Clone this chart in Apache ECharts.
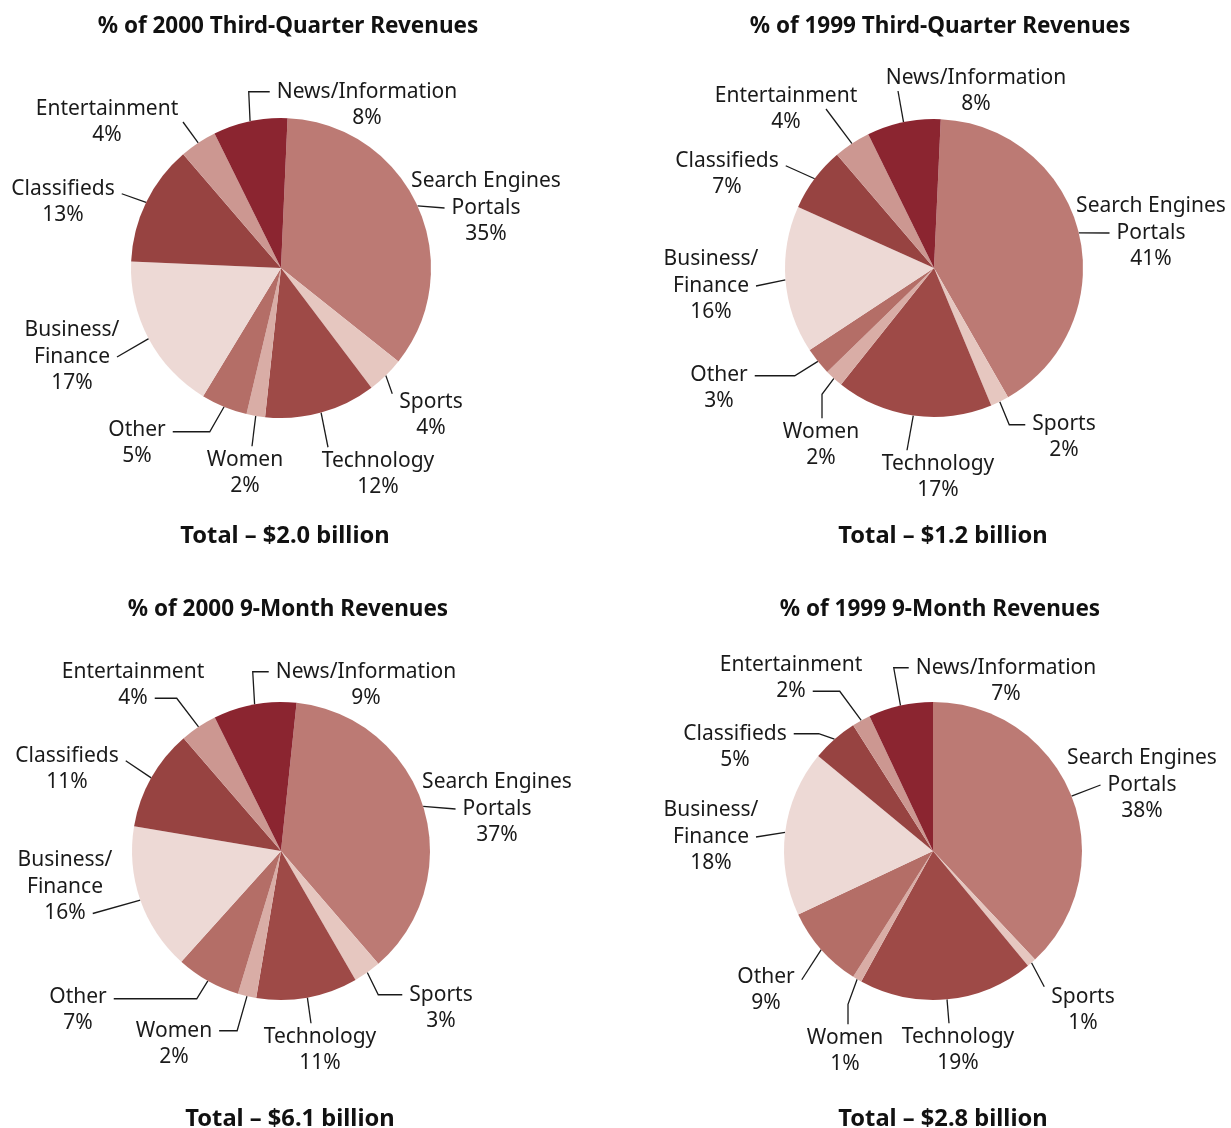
<!DOCTYPE html>
<html>
<head>
<meta charset="utf-8">
<script src="https://cdn.jsdelivr.net/npm/echarts@6/dist/echarts.min.js"></script>
<style>
html,body{margin:0;padding:0;background:#fff;}
#c{width:1231px;height:1128px;}
</style>
</head>
<body>
<div id="c"></div>
<script>
// ---- data ----
const categories = ['Search Engines\nPortals','Sports','Technology','Women','Other','Business/\nFinance','Classifieds','Entertainment','News/Information'];
const q3_2000 = [35, 4, 12, 2, 5, 17, 13, 4, 8];
const q3_1999 = [41, 2, 17, 2, 3, 16, 7, 4, 8];
const m9_2000 = [37, 3, 11, 2, 7, 16, 11, 4, 9];
const m9_1999 = [38, 1, 19, 1, 9, 18, 5, 2, 7];
const titles = ['% of 2000 Third-Quarter Revenues','% of 1999 Third-Quarter Revenues','% of 2000 9-Month Revenues','% of 1999 9-Month Revenues'];
const totals = ['Total \u2013 $2.0 billion','Total \u2013 $1.2 billion','Total \u2013 $6.1 billion','Total \u2013 $2.8 billion'];

// ---- style / layout ----
const colors = ['#BC7A74','#E6C7C0','#9E4A47','#D9ADA6','#B46E67','#EDD9D5','#974341','#CC9791','#8B2530'];
const FONT = '"Noto Sans", "DejaVu Sans", sans-serif';
const FS = 21, LH = 26.5, GAP = 7, LABEL_DY = 2;
const pies = [
  {vals:q3_2000, center:[281,268], r:150, start:87.5, titlePos:[288,27], totalPos:[285,536]},
  {vals:q3_1999, center:[934,268], r:149, start:87.4, titlePos:[940,27], totalPos:[943,536]},
  {vals:m9_2000, center:[281,851], r:149, start:84,   titlePos:[288,610], totalPos:[290,1119]},
  {vals:m9_1999, center:[933,851], r:149, start:90,   titlePos:[940,610], totalPos:[943,1119]}
];
// label block centres, per pie, in category order
const labelPos = [
  [[486,206],[431,413],[378,472],[245,471],[137,441],[72,355],[63,200],[107,120],[367,103]],
  [[1151,231],[1064,435],[938,475],[821,443],[719,386],[711,284],[727,172],[786,107],[976,89]],
  [[497,807],[441,1006],[320,1048],[174,1042],[78,1008],[65,885],[67,767],[133,683],[366,683]],
  [[1142,783],[1083,1008],[958,1048],[845,1049],[766,988],[711,835],[735,745],[791,676],[1006,679]]
];
// leader line attachment: [side, textLine, elbowDx, elbowDy, offsetX, offsetY]
const leader = [
  [['L',1,0,0,0,0],['L',0,0,0,0,-8],['T',0,0,0,-50,0],['T',0,0,0,7,0],['R',0,37,0,0,2],['R',1,0,0,0,0],['R',0,0,0,0,5],['C',0,0,0,76,0],['L',0,-21,0,0,0]],
  [['L',1,0,0,0,0],['L',0,-16,0,0,1],['T',0,0,0,-31,0],['T',0,0,-24,1,0],['R',0,40,0,0,1],['R',1,0,0,0,0],['R',0,0,0,0,5],['C',0,0,0,40,0],['C',0,0,0,-78,0]],
  [['L',1,0,0,0,0],['L',0,-24,0,0,0],['T',0,0,0,-9,0],['R',0,18,0,0,0],['R',0,83,0,0,2],['R',2,0,0,0,0],['R',0,0,0,0,5],['R',1,22,0,0,0],['L',0,-16,0,0,0]],
  [['L',1,0,0,0,0],['L',0,0,0,0,-10],['T',0,0,0,-9,0],['T',0,0,-20,3,0],['R',0,0,0,0,3],['R',1,0,0,0,0],['R',0,25,0,0,0],['R',1,27,0,0,0],['L',0,-15,0,0,0]]
];

const measureCtx = document.createElement('canvas').getContext('2d');
measureCtx.font = FS + 'px ' + FONT;
const textW = (s) => measureCtx.measureText(s).width;

let chart;
function arcPoint(si, idx, params) {
  try {
    const lay = chart.getModel().getSeriesByIndex(si).getData().getItemLayout(idx);
    const mid = (lay.startAngle + lay.endAngle) / 2;
    return [lay.cx + lay.r * Math.cos(mid), lay.cy + lay.r * Math.sin(mid)];
  } catch (e) {
    return params.labelLinePoints[0];
  }
}

const series = pies.map((p, si) => ({
  type: 'pie',
  center: p.center,
  radius: p.r,
  startAngle: p.start,
  clockwise: true,
  avoidLabelOverlap: false,
  silent: true,
  animation: false,
  itemStyle: {borderWidth: 0},
  data: categories.map((n, i) => ({name: n, value: p.vals[i], itemStyle: {color: colors[i]}})),
  label: {
    show: true,
    position: 'outside',
    formatter: (d) => d.name + '\n' + d.value + '%',
    color: '#1a1a1a',
    fontFamily: FONT,
    fontSize: FS,
    lineHeight: LH,
    align: 'center'
  },
  labelLine: {
    show: true,
    length: 10,
    length2: 8,
    lineStyle: {color: '#1a1a1a', width: 1.3}
  },
  labelLayout: (params) => {
    const idx = params.dataIndex;
    const cx = labelPos[si][idx][0];
    const cy = labelPos[si][idx][1] + LABEL_DY;
    const lines = categories[idx].split('\n').concat([p.vals[idx] + '%']);
    const n = lines.length;
    const lineY = (k) => cy + (k - (n - 1) / 2) * LH;
    const [side, k, ex, ey, ox, oy] = leader[si][idx];
    let ax, ay;
    if (side === 'L') { ax = cx - textW(lines[k]) / 2 - GAP; ay = lineY(k); }
    else if (side === 'R') { ax = cx + textW(lines[k]) / 2 + GAP; ay = lineY(k); }
    else if (side === 'T') { ax = cx; ay = lineY(0) - FS / 2 - 3; }
    else { ax = cx; ay = cy; }
    ax += ox; ay += oy;
    const pts = [arcPoint(si, idx, params)];
    if (ex || ey) pts.push([ax + ex, ay + ey]);
    pts.push([ax, ay]);
    return {x: cx, y: cy, align: 'center', verticalAlign: 'middle', labelLinePoints: pts};
  }
}));

const graphics = [];
pies.forEach((p, i) => {
  graphics.push({type:'text', x:p.titlePos[0], y:p.titlePos[1], silent:true,
    style:{text:titles[i], font:'bold 22.5px ' + FONT, fill:'#111', textAlign:'center', textVerticalAlign:'middle'}});
  graphics.push({type:'text', x:p.totalPos[0], y:p.totalPos[1], silent:true,
    style:{text:totals[i], font:'bold 23.7px ' + FONT, fill:'#111', textAlign:'center', textVerticalAlign:'middle'}});
});

chart = echarts.init(document.getElementById('c'), null, {renderer:'canvas'});
chart.setOption({
  backgroundColor: '#fff',
  animation: false,
  series: series,
  graphic: graphics
});
</script>
</body>
</html>
